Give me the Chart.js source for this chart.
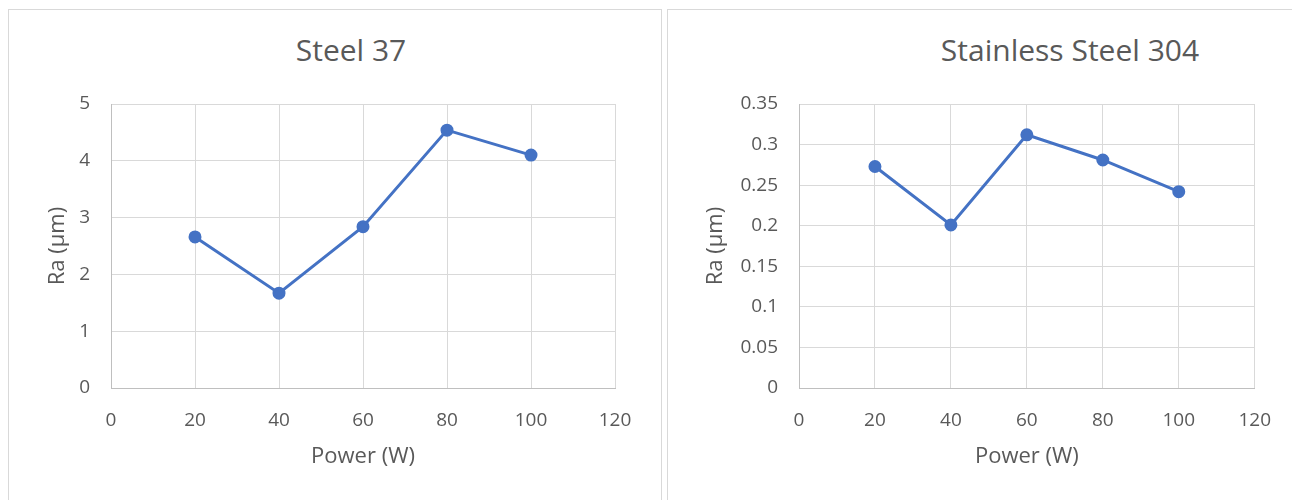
<!DOCTYPE html>
<html>
<head>
<meta charset="utf-8">
<script src="https://cdn.jsdelivr.net/npm/chart.js@4.4.1/dist/chart.umd.min.js"></script>
<style>
  body { margin: 0; width: 1292px; height: 500px; overflow: hidden; position: relative; background: #fff; font-family: "Open Sans", sans-serif; }
  .panel { position: absolute; top: 9px; height: 520px; border: 1px solid #d9d9d9; box-sizing: border-box; }
  .box { position: absolute; top: 10px; height: 490px; }
  .title { position: absolute; top: 30px; line-height: 40px; font-size: 30px; color: #595959; white-space: nowrap; transform: translateX(-50%); }
</style>
</head>
<body>
<div class="panel" style="left:8px;width:654px"></div>
<div class="panel" style="left:667px;width:640px"></div>
<div class="title" id="title1" style="left:351px"></div>
<div class="title" id="title2" style="left:1070px"></div>
<div class="box" style="left:8px;width:652px"><canvas id="chart1"></canvas></div>
<div class="box" style="left:667px;width:625px"><canvas id="chart2"></canvas></div>
<script>
const power = [20, 40, 60, 80, 100];
const raSteel37 = [2.66, 1.67, 2.84, 4.54, 4.10];
const raSs304 = [0.273, 0.201, 0.312, 0.281, 0.242];
const chartTitles = ["Steel 37", "Stainless Steel 304"];
const xAxisTitle = "Power (W)";
const yAxisTitle = "Ra (µm)";

const textColor = "#595959";
const gridColor = "#d9d9d9";
const lineColor = "#4472C4";

document.getElementById("title1").textContent = chartTitles[0];
document.getElementById("title2").textContent = chartTitles[1];

function makeChart(canvasId, values, yMax, yStep, yDecimals, box) {
  const ctx = document.getElementById(canvasId).getContext("2d");
  return new Chart(ctx, {
    type: "line",
    data: {
      datasets: [{
        data: power.map((p, i) => ({ x: p, y: values[i] })),
        borderColor: lineColor,
        backgroundColor: lineColor,
        borderWidth: 3,
        pointRadius: 5,
        pointHoverRadius: 5,
        tension: 0,
      }]
    },
    options: {
      responsive: true,
      maintainAspectRatio: false,
      animation: false,
      layout: {
        padding: { left: box.padLeft, right: box.padRight, top: box.padTop, bottom: box.padBottom }
      },
      plugins: {
        legend: { display: false },
        tooltip: { enabled: false },
      },
      scales: {
        x: {
          type: "linear",
          min: 0,
          max: 120,
          afterFit: scale => { scale.height = box.xHeight; },
          ticks: {
            stepSize: 20,
            color: textColor,
            padding: 21,
            font: { family: "Open Sans", size: 19 },
          },
          grid: { color: gridColor, drawTicks: false },
          border: { color: "#bfbfbf" },
          title: {
            display: true,
            text: xAxisTitle,
            color: textColor,
            font: { family: "Open Sans", size: 22 },
            padding: 0,
          },
        },
        y: {
          min: 0,
          max: yMax,
          afterFit: scale => { scale.width = box.yWidth; },
          ticks: {
            stepSize: yStep,
            color: textColor,
            padding: 21,
            font: { family: "Open Sans", size: 19 },
            callback: v => String(Number(v.toFixed(yDecimals))),
          },
          grid: { color: gridColor, drawTicks: false },
          border: { color: "#bfbfbf" },
          title: {
            display: true,
            text: yAxisTitle,
            color: textColor,
            font: { family: "Open Sans", size: 22 },
            padding: 0,
          },
        },
      },
    },
  });
}

makeChart("chart1", raSteel37, 5, 1, 0,
  { padLeft: 36.8, yWidth: 66.2, padRight: 45, padTop: 94, xHeight: 82.2, padBottom: 29.8 });
makeChart("chart2", raSs304, 0.35, 0.05, 2,
  { padLeft: 35.8, yWidth: 96.2, padRight: 33, padTop: 94, xHeight: 82.2, padBottom: 29.8 });
</script>
</body>
</html>
